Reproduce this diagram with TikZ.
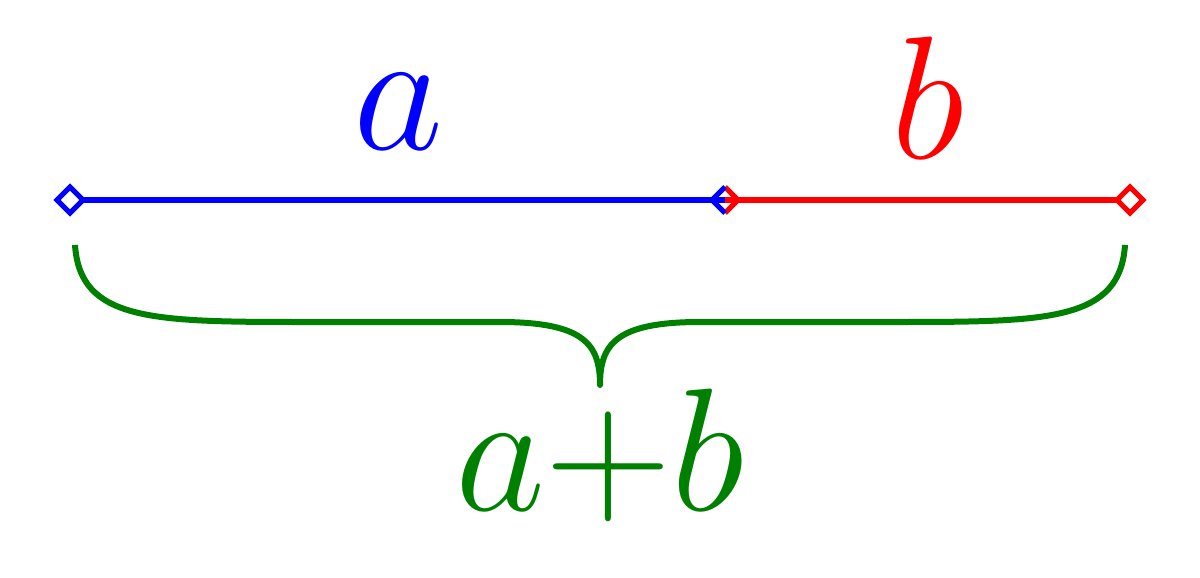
\documentclass[tikz,border=0pt]{standalone}
\usepackage{fix-cm}
\definecolor{gr}{RGB}{0,128,0}
\begin{document}
\begin{tikzpicture}[x=1pt,y=-1pt,
  seg/.style={line width=6pt},
  lbl/.style={font=\fontsize{175}{175}\selectfont,inner sep=0pt}]
\useasboundingbox (0,0) rectangle (1200,578);
\coordinate (L) at (70,200);
\coordinate (M) at (725,200);
\coordinate (R) at (1130,200);
\draw[seg,blue] (L) -- (M);
\draw[seg,red] (M) -- (R);
\draw[blue,line width=5pt,fill=white] (57,200) -- (70,187) -- (83,200) -- (70,213) -- cycle;
\draw[red,line width=5pt,fill=white] (1117,200) -- (1130,187) -- (1143,200) -- (1130,213) -- cycle;
\draw[red,line width=5pt] (725,187) -- (738,200) -- (725,213);
\draw[blue,line width=5pt] (725,187) -- (712,200) -- (725,213);
\node[lbl,blue] (a) at (398,112) {$a$};
\node[lbl,red] (b) at (928,98) {$b$};
\draw[gr,line width=6pt,line join=round] (75,245) .. controls (80,320) and (150,322) .. (300,322) -- (500,322) .. controls (585,322) and (600,345) .. (600,385)
  .. controls (600,345) and (615,322) .. (700,322) -- (900,322) .. controls (1050,322) and (1120,320) .. (1125,245);
\node[lbl,gr] (ab) at (600,455) {$a{+}b$};
\end{tikzpicture}
\end{document}
